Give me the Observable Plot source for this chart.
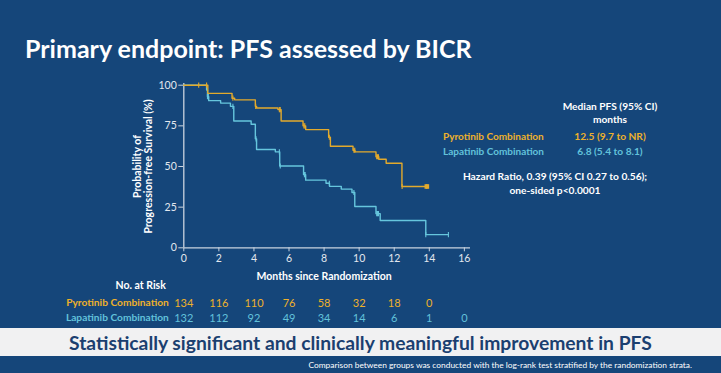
<!DOCTYPE html>
<html><head><meta charset="utf-8">
<script src="https://cdn.jsdelivr.net/npm/d3@7"></script>
<script src="https://cdn.jsdelivr.net/npm/@observablehq/plot@0.6"></script>
<style>
html,body{margin:0;padding:0;background:#15467a;width:721px;height:373px;overflow:hidden;font-family:Lato,"Open Sans",sans-serif;}
#wrap{position:relative;width:721px;height:373px;}
.abs{position:absolute;white-space:nowrap;line-height:1;}
#title{left:25px;top:36px;font-size:25px;font-weight:700;color:#fff;}
#band{left:0;top:328px;width:721px;height:28px;background:#f1f1f2;}
#banner{left:0;width:721px;top:332.5px;text-align:center;font-size:19.3px;font-weight:700;color:#1b3f70;}
#caption{right:29px;top:360.5px;font-size:8.4px;color:#fff;}
#chart{left:0;top:0;}
.c{transform:translateX(-50%);font-size:10.2px;font-weight:700;}
.l{font-size:10px;font-weight:700;}
</style></head>
<body><div id="wrap">
<div id="chart" class="abs"></div>
<div id="title" class="abs">Primary endpoint: PFS assessed by BICR</div>
<div class="abs c" style="left:610px;top:100.5px;color:#fff">Median PFS (95% CI)</div>
<div class="abs c" style="left:610px;top:114px;color:#fff">months</div>
<div class="abs l" style="left:443px;top:130.5px;color:#eeb12b">Pyrotinib Combination</div>
<div class="abs c" style="left:610px;top:130.5px;color:#eeb12b">12.5 (9.7 to NR)</div>
<div class="abs l" style="left:443px;top:145.5px;color:#62c2da">Lapatinib Combination</div>
<div class="abs c" style="left:610px;top:145.5px;color:#62c2da">6.8 (5.4 to 8.1)</div>
<div class="abs c" style="left:555px;top:171px;color:#fff">Hazard Ratio, 0.39 (95% CI 0.27 to 0.56);</div>
<div class="abs c" style="left:555px;top:184.5px;color:#fff">one-sided p&lt;0.0001</div>
<div id="band" class="abs"></div>
<div id="banner" class="abs">Statistically significant and clinically meaningful improvement in PFS</div>
<div id="caption" class="abs">Comparison between groups was conducted with the log-rank test stratified by the randomization strata.</div>
</div>
<script>
const pyroTime = [0, 1.37, 2.75, 2.9, 4.08, 4.15, 5.37, 5.55, 6.8, 6.95, 8.26, 8.36, 9.65, 9.76, 10.96, 11.12, 11.54, 12.44, 13.86];
const pyroSurv = [100, 95, 92, 91, 87, 86, 85, 78, 75, 72.7, 68, 62.5, 60, 59, 56, 54.5, 52, 37.7, 37.7];
const lapaTime = [0, 1.3, 1.35, 1.42, 2.1, 2.66, 2.85, 3.84, 4.08, 4.15, 5.22, 5.47, 6.83, 6.95, 8.11, 8.31, 8.98, 9.59, 9.75, 10.96, 11.2, 13.8, 15.09];
const lapaSurv = [100, 97, 93, 90.5, 89, 87, 78, 76, 67, 60.5, 59, 50.3, 45, 41.6, 39.7, 37.8, 36.1, 34, 25.4, 21, 16.8, 8.1, 8.1];
const pyroCensor = [0.85, 1.3, 2.8, 4.1, 5.45, 5.5, 6.85, 6.9, 8.3, 9.7, 9.75, 11.0, 11.05, 11.1, 12.45, 13.86];
const lapaCensor = [1.35, 1.4, 2.8, 4.12, 5.45, 5.5, 6.88, 6.92, 8.3, 9.7, 11.0, 11.05, 11.1, 13.8, 15.09];
const riskMonths = [0, 2, 4, 6, 8, 10, 12, 14, 16];
const pyroRisk = [134, 116, 110, 76, 58, 32, 18, 0];
const lapaRisk = [132, 112, 92, 49, 34, 14, 6, 1, 0];
const groupNames = ["Pyrotinib Combination", "Lapatinib Combination"];
const yTicks = [0, 25, 50, 75, 100];

const gold = "#e3aa2c", cyan = "#66c6dd";
const goldT = "#eeb12b", cyanT = "#62c2da";
const axisC = "#c9d3df";

function survAt(times, surv, t) {
  let s = surv[0];
  for (let i = 0; i < times.length; i++) if (times[i] <= t) s = surv[i];
  return s;
}
const pyro = pyroTime.map((t, i) => ({t, s: pyroSurv[i]}));
const lapa = lapaTime.map((t, i) => ({t, s: lapaSurv[i]}));
const pyroC = pyroCensor.map(t => ({t, s: survAt(pyroTime, pyroSurv, t)}));
const lapaC = lapaCensor.map(t => ({t, s: survAt(lapaTime, lapaSurv, t)}));
const vtick = {draw(ctx, size) { const r = 2.6; ctx.moveTo(0, -r); ctx.lineTo(0, r); }};

const chart = Plot.plot({
  width: 721, height: 373,
  marginLeft: 183.3, marginRight: 251, marginTop: 84.7, marginBottom: 125.7,
  style: {background: "transparent", color: "#e3e8ef", fontFamily: "Lato, sans-serif", fontSize: "10.5px", overflow: "visible"},
  x: {domain: [0, 16.35]},
  y: {domain: [0, 100]},
  marks: [
    Plot.ruleY([0], {stroke: axisC, strokeWidth: 1.3}),
    Plot.ruleX([0], {y1: 0, y2: 101, stroke: axisC, strokeWidth: 1.3}),
    Plot.axisX({ticks: riskMonths, tickSize: 4, tickPadding: 2.5, stroke: axisC, label: null, fill: "#e3e8ef"}),
    Plot.axisY({ticks: yTicks, tickSize: 5, tickPadding: 2, stroke: axisC, label: null, fill: "#e3e8ef"}),
    Plot.line(lapa, {x: "t", y: "s", curve: "step-after", stroke: cyan, strokeWidth: 1.4}),
    Plot.line(pyro, {x: "t", y: "s", curve: "step-after", stroke: gold, strokeWidth: 1.4}),
    Plot.dot(lapaC, {x: "t", y: "s", symbol: vtick, stroke: cyan, strokeWidth: 1.1, r: 3}),
    Plot.dot(pyroC, {x: "t", y: "s", symbol: vtick, stroke: gold, strokeWidth: 1.1, r: 3}),
    Plot.dot([pyro[pyro.length - 1]], {x: "t", y: "s", symbol: "square", fill: gold, r: 2.6}),
    Plot.text(["Probability of\nProgression-free Survival (%)"], {frameAnchor: "left", text: d => d, rotate: -90, dx: -41, textAnchor: "middle", lineAnchor: "middle", fontWeight: "bold", fontSize: 10.5, fill: "#fff", lineHeight: 1.12}),
    Plot.text(["Months since Randomization"], {x: () => 8, y: () => 0, text: d => d, dy: 29, fontWeight: "bold", fontSize: 10.5, fill: "#fff"}),
    Plot.text(["No. at Risk"], {x: () => 0, y: () => 0, text: d => d, dx: -18, dy: 38, textAnchor: "end", fontWeight: "bold", fontSize: 10.5, fill: "#fff"}),
    Plot.text([groupNames[0]], {x: () => 0, y: () => 0, text: d => d, dx: -15, dy: 55.4, textAnchor: "end", fontWeight: "bold", fontSize: 10.2, fill: goldT}),
    Plot.text([groupNames[1]], {x: () => 0, y: () => 0, text: d => d, dx: -15, dy: 70.4, textAnchor: "end", fontWeight: "bold", fontSize: 10.2, fill: cyanT}),
    Plot.text(pyroRisk, {x: (d, i) => riskMonths[i], y: () => 0, text: d => String(d), dy: 55.4, fontSize: 11, fill: goldT}),
    Plot.text(lapaRisk, {x: (d, i) => riskMonths[i], y: () => 0, text: d => String(d), dy: 70.4, fontSize: 11, fill: cyanT})
  ]
});
document.getElementById("chart").appendChild(chart);
</script>
</body></html>
